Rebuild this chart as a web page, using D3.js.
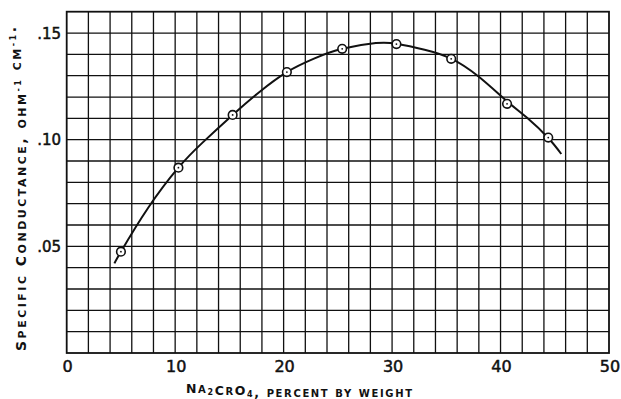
<!DOCTYPE html>
<html><head><meta charset="utf-8">
<script src="https://cdn.jsdelivr.net/npm/d3@7"></script>
<style>
html,body{margin:0;padding:0;background:#fff;}
text{font-family:"DejaVu Sans",sans-serif;fill:#111;}
</style></head>
<body><svg id="viz" width="621" height="399"></svg>
<script>
// measured points (percent by weight, specific conductance)
const pctPts = [5.0, 10.3, 15.3, 20.3, 25.4, 30.4, 35.45, 40.6, 44.4];
const condPts = [0.0475, 0.0869, 0.1116, 0.1317, 0.1426, 0.1448, 0.1379, 0.1168, 0.1010];
// smooth curve as drawn
const pctCurve = [4.4, 5.0, 7.5, 10.3, 12.5, 15.3, 17.8, 20.3, 22.8, 25.4, 28.5, 30.4, 33.0, 35.45, 38.0, 40.6, 42.5, 44.4, 45.6];
const condCurve = [0.042, 0.0475, 0.0680, 0.0869, 0.0985, 0.1116, 0.1225, 0.1317, 0.1380, 0.1426, 0.1453, 0.1450, 0.1422, 0.1380, 0.1295, 0.1180, 0.1100, 0.1008, 0.0933];
const xTicks = [0, 10, 20, 30, 40, 50];
const yTicks = [0.05, 0.10, 0.15];
const yTickLabels = [".05", ".10", ".15"];

const svg = d3.select("#viz");
const L = 66.7, R = 609, T = 11.7, B = 353;
const x = d3.scaleLinear().domain([0, 50]).range([L, R]);
const y = d3.scaleLinear().domain([0, 0.16]).range([B, T]);

// grid
const grid = svg.append("g").attr("stroke", "#111").attr("stroke-width", 1.3);
grid.selectAll("line.v").data(d3.range(2, 50, 2)).join("line").attr("class", "v")
  .attr("x1", d => x(d)).attr("x2", d => x(d)).attr("y1", T).attr("y2", B);
grid.selectAll("line.h").data(d3.range(1, 16).map(i => i / 100)).join("line").attr("class", "h")
  .attr("y1", d => y(d)).attr("y2", d => y(d)).attr("x1", L).attr("x2", R);
svg.append("rect").attr("x", L).attr("y", T).attr("width", R - L).attr("height", B - T)
  .attr("fill", "none").attr("stroke", "#111").attr("stroke-width", 1.8);

// tick labels
svg.selectAll("text.xt").data(xTicks).join("text").attr("class", "xt")
  .attr("x", d => x(d) + 1).attr("y", 372).attr("text-anchor", "middle")
  .attr("font-size", 16).attr("stroke", "#111").attr("stroke-width", 0.5).text(d => d);
svg.selectAll("text.yt").data(yTicks).join("text").attr("class", "yt")
  .attr("x", 61).attr("y", d => y(d) + 5.5).attr("text-anchor", "end")
  .attr("font-size", 15).attr("stroke", "#111").attr("stroke-width", 0.5).text((d, i) => yTickLabels[i]);

// curve
const line = d3.line().x((d, i) => x(pctCurve[i])).y(d => y(d)).curve(d3.curveNatural);
svg.append("path").attr("d", line(condCurve)).attr("fill", "none")
  .attr("stroke", "#111").attr("stroke-width", 2);

// points
const pts = svg.append("g").selectAll("g").data(pctPts).join("g")
  .attr("transform", (d, i) => `translate(${x(d)},${y(condPts[i])})`);
pts.append("circle").attr("r", 4.3).attr("fill", "#fff").attr("stroke", "#111").attr("stroke-width", 1.6);
pts.append("circle").attr("r", 0.9).attr("fill", "#111");

// hand made small caps: lower case runs drawn as smaller capitals
function caps(t, s, big, small){
  (s.match(/[a-z]+|[^a-z]+/g) || []).forEach(run => {
    const lo = /[a-z]/.test(run[0]);
    t.append("tspan").attr("font-size", lo ? small : big).text(lo ? run.toUpperCase() : run);
  });
}
function sub(t, s, size, dy){
  t.append("tspan").attr("font-size", size).attr("dy", dy).text(s);
  t.append("tspan").attr("dy", -dy).text("");
}

const xt = svg.append("text").attr("x", 186).attr("y", 393).attr("font-weight", "bold")
  .attr("textLength", 226).attr("lengthAdjust", "spacing");
caps(xt, "Na", 12.5, 10); sub(xt, "2", 8, 2);
caps(xt, "CrO", 12.5, 10); sub(xt, "4", 8, 2);
caps(xt, ", percent by weight", 12.5, 10);

const yt = svg.append("text").attr("transform", "translate(26,351) rotate(-90)")
  .attr("font-weight", "bold").attr("textLength", 324).attr("lengthAdjust", "spacing");
caps(yt, "Specific  Conductance,  ohm", 14, 11); sub(yt, "-1", 8, -5);
caps(yt, " cm", 14, 11); sub(yt, "-1", 8, -5);
caps(yt, ".", 14, 11);
</script></body></html>
